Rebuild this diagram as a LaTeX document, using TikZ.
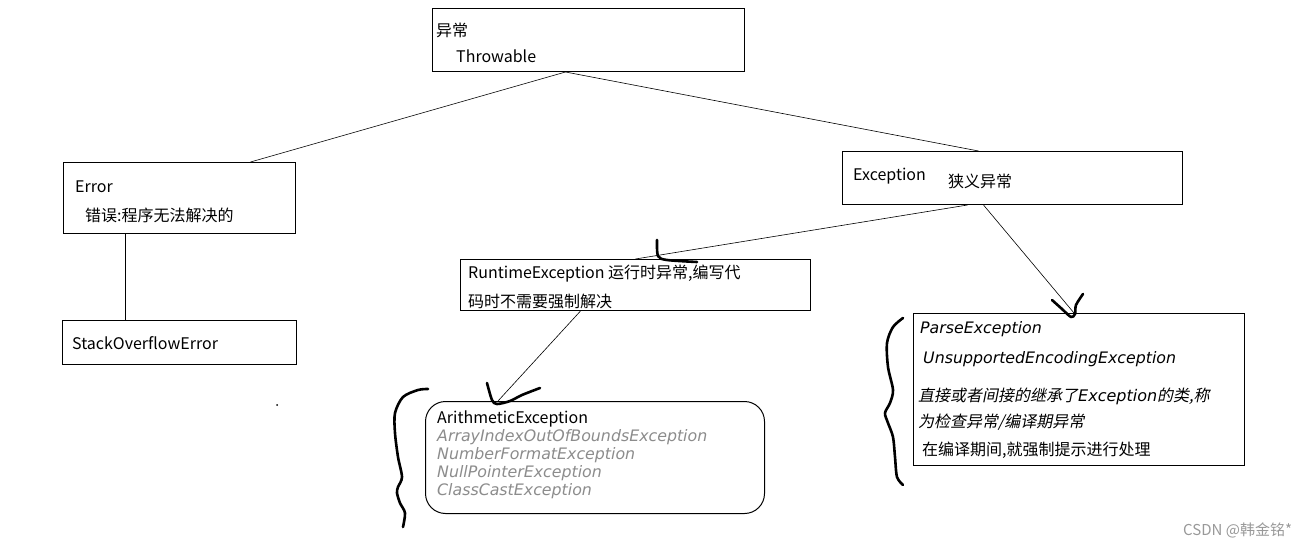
\documentclass[tikz,border=0pt]{standalone}
\usepackage{fontspec}
\setmainfont{Noto Sans CJK SC}[AutoFakeSlant=0.2]
\newfontfamily\vera{DejaVu Sans}

\tikzset{
  box/.style={draw, line width=1pt, inner sep=0pt, anchor=north west},
  txt/.style={anchor=west, inner sep=0pt, font=\fontsize{16}{19}\selectfont},
  slant/.style={txt, font=\fontsize{16}{19}\selectfont\itshape},
  obl/.style={txt, font=\fontsize{15.8}{19}\selectfont\vera\itshape},
  faint/.style={obl, text=black!45},
  link/.style={line width=0.6pt},
  scribble/.style={line width=2.6pt, line cap=round, line join=round},
}

\begin{document}
\begin{tikzpicture}[x=1pt, y=-1pt]
  \useasboundingbox[fill=white] (0,0) rectangle (1314,548);

  % boxes
  \node[box, minimum width=312pt, minimum height=63pt] (throw) at (432,8) {};
  \node[box, minimum width=232pt, minimum height=71pt] (err) at (63,162) {};
  \node[box, minimum width=340pt, minimum height=53pt] (exc) at (842,151) {};
  \node[box, minimum width=234pt, minimum height=44pt] (stack) at (62,320) {};
  \node[box, minimum width=350pt, minimum height=51pt] (rt) at (460,259) {};
  \node[box, minimum width=339pt, minimum height=112pt, rounded corners=20pt] (arith) at (425,401) {};
  \node[box, minimum width=331pt, minimum height=152pt] (parse) at (913,313) {};

  % texts
  \node[txt] (throwA) at (436,30) {异常};
  \node[txt] (throwB) at (456,56) {Throwable};
  \node[txt] (errA) at (75,187) {Error};
  \node[txt] (errB) at (85,215) {错误:程序无法解决的};
  \node[txt] (excA) at (853,176) {Exception};
  \node[txt] (excB) at (948,181) {狭义异常};
  \node[txt] (stackA) at (72,343) {StackOverflowError};
  \node[txt] (rtA) at (468,274) {RuntimeException 运行时异常,编写代};
  \node[txt] (rtB) at (468,301) {码时不需要强制解决};
  \node[txt] (arA) at (437,419) {ArithmeticException};
  \node[faint] (arB) at (437,437) {ArrayIndexOutOfBoundsException};
  \node[faint] (arC) at (437,455) {NumberFormatException};
  \node[faint] (arD) at (437,473) {NullPointerException};
  \node[faint] (arE) at (437,491) {ClassCastException};
  \node[obl] (paA) at (920,329) {ParseException};
  \node[obl] (paB) at (923,359) {UnsupportedEncodingException};
  \node[slant] (paC) at (918,396) {直接或者间接的继承了{\vera\itshape Exception}的类,称};
  \node[slant] (paD) at (918,422) {为检查异常/编译期异常};
  \node[txt] (paE) at (922,450) {在编译期间,就强制提示进行处理};

  % links
  \draw[link] ([xshift=-23pt]throw.south) -- ([xshift=71pt]err.north);
  \draw[link] ([xshift=-23pt]throw.south) -- ([xshift=-34pt]exc.north);
  \draw[link] ([xshift=-54pt]err.south) -- ([xshift=-54pt]stack.north);
  \draw[link] ([xshift=-45pt]exc.south) -- (rt.north);
  \draw[link] ([xshift=-29pt]exc.south) -- ([xshift=-5pt]parse.north);
  \draw[link] ([xshift=-55pt]rt.south) -- ([xshift=-97pt]arith.north);

  % hand marks
  \draw[scribble] plot[smooth] coordinates {(657,240) (658,256) (667,260) (697,262)};
  \draw[scribble] plot[smooth] coordinates {(1052,300) (1062,309) (1071,317) (1075,314) (1076,305) (1083,294)};
  \draw[scribble] plot[smooth] coordinates {(487,383) (492,400) (497,404) (510,401) (522,395) (540,388)};
  \draw[scribble] plot[smooth] coordinates {(428,389) (418,390) (403,397) (395,413) (395,433) (398,457) (402,477) (398,487) (397,493) (400,503) (405,513) (403,527)};
  \draw[scribble] plot[smooth] coordinates {(903,318) (893,327) (887,343) (888,367) (893,390) (890,403) (885,413) (888,423) (893,437) (895,457) (897,477) (903,485)};

  \fill (277,405) circle (1pt);

  \node[txt, text=black!40, font=\fontsize{15}{17}\selectfont] (mark) at (1183,530) {CSDN @韩金铭*};
\end{tikzpicture}
\end{document}
